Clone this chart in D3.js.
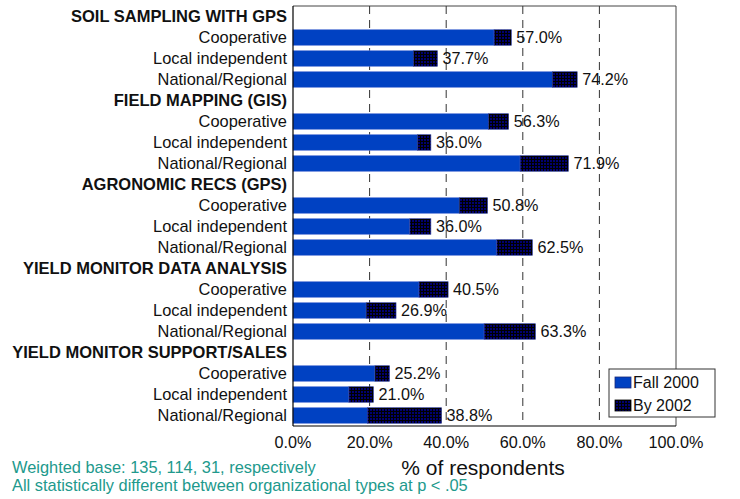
<!DOCTYPE html>
<html>
<head>
<meta charset="utf-8">
<script src="https://cdn.jsdelivr.net/npm/d3@7"></script>
<style>
  body { margin: 0; background: #fff; }
  svg { display: block; font-family: "Liberation Sans", Arial, sans-serif; }
</style>
</head>
<body>
<svg width="740" height="499"></svg>
<script>
// chart data
const groups = ["SOIL SAMPLING WITH GPS", "FIELD MAPPING (GIS)", "AGRONOMIC RECS (GPS)",
                "YIELD MONITOR DATA ANALYSIS", "YIELD MONITOR SUPPORT/SALES"];
const orgTypes = ["Cooperative", "Local independent", "National/Regional"];
const fall2000 = [[52.5, 31.4, 67.7], [51.0, 32.5, 59.3], [43.4, 30.5, 53.2],
                  [32.9, 19.1, 49.9], [21.4, 14.6, 19.4]];
const by2002 = [[57.0, 37.7, 74.2], [56.3, 36.0, 71.9], [50.8, 36.0, 62.5],
                [40.5, 26.9, 63.3], [25.2, 21.0, 38.8]];
const xTicks = [0, 20, 40, 60, 80, 100];
const seriesNames = ["Fall 2000", "By 2002"];
const footnotes = ["Weighted base: 135, 114, 31, respectively",
                   "All statistically different between organizational types at p < .05"];

const svg = d3.select("svg");
const plotL = 293, plotR = 676, plotT = 6, plotB = 426;
const blue = "#0041c2", navy = "#000070", teal = "#21998c";

// hatched fill for the "By 2002" part
const defs = svg.append("defs");
const pat = defs.append("pattern")
    .attr("id", "grid")
    .attr("width", 3).attr("height", 3)
    .attr("patternUnits", "userSpaceOnUse");
pat.append("rect").attr("width", 3).attr("height", 3).attr("fill", navy);
pat.append("path").attr("d", "M0,0.5H3M0.5,0V3")
    .attr("stroke", "#000").attr("stroke-width", 1);

// one row per header and per bar
var rows = [];
groups.forEach(function (g, gi) {
    rows.push({ key: "h" + gi, label: g, header: true });
    orgTypes.forEach(function (o, oi) {
        rows.push({ key: gi + "-" + oi, label: o, header: false,
                    fall: fall2000[gi][oi], total: by2002[gi][oi] });
    });
});

var x = d3.scaleLinear().domain([0, 100]).range([plotL, plotR]);
var y = d3.scaleBand().domain(rows.map(d => d.key)).range([plotT, plotB])
    .paddingInner(0.26).paddingOuter(0.13);

// frame and dashed grid
svg.append("path")
    .attr("d", `M${plotL},${plotT}H${plotR}V${plotB}`)
    .attr("fill", "none").attr("stroke", "#444").attr("stroke-width", 1);

svg.append("g").selectAll("line")
    .data(xTicks.filter(t => t > 0 && t < 100))
    .enter().append("line")
    .attr("x1", d => x(d)).attr("x2", d => x(d))
    .attr("y1", plotT).attr("y2", plotB)
    .attr("stroke", "#333").attr("stroke-dasharray", "8,6");

// bars
var bars = rows.filter(d => !d.header);
var barG = svg.append("g");
barG.selectAll(".fall")
    .data(bars).enter().append("rect")
    .attr("class", "fall")
    .attr("x", x(0)).attr("y", d => y(d.key))
    .attr("width", d => x(d.fall) - x(0))
    .attr("height", y.bandwidth())
    .attr("fill", blue).attr("stroke", "#5a78d6").attr("stroke-width", 0.6);

barG.selectAll(".grow")
    .data(bars).enter().append("rect")
    .attr("class", "grow")
    .attr("x", d => x(d.fall)).attr("y", d => y(d.key))
    .attr("width", d => x(d.total) - x(d.fall))
    .attr("height", y.bandwidth())
    .attr("fill", "url(#grid)").attr("stroke", "#2a3a9a").attr("stroke-width", 0.6);

barG.selectAll(".val")
    .data(bars).enter().append("text")
    .attr("x", d => x(d.total) + 5)
    .attr("y", d => y(d.key) + y.bandwidth() / 2)
    .attr("dy", "0.36em")
    .attr("font-size", 16.2).attr("fill", "#111")
    .text(d => d.total.toFixed(1) + "%");

// axes lines
svg.append("line").attr("x1", plotL).attr("x2", plotL).attr("y1", plotT).attr("y2", plotB)
    .attr("stroke", "#000").attr("stroke-width", 1.2);
svg.append("line").attr("x1", plotL).attr("x2", plotR).attr("y1", plotB).attr("y2", plotB)
    .attr("stroke", "#000").attr("stroke-width", 1.2);

// row labels
svg.append("g").selectAll("text")
    .data(rows).enter().append("text")
    .attr("x", 287)
    .attr("y", d => y(d.key) + y.bandwidth() / 2)
    .attr("dy", "0.36em")
    .attr("text-anchor", "end")
    .attr("font-size", d => d.header ? 16.5 : 16.4)
    .attr("font-weight", d => d.header ? "bold" : "normal")
    .attr("fill", "#111")
    .text(d => d.label);

// x tick labels
svg.append("g").selectAll("text")
    .data(xTicks).enter().append("text")
    .attr("x", d => x(d)).attr("y", 448)
    .attr("text-anchor", "middle")
    .attr("font-size", 16.2).attr("fill", "#111")
    .text(d => d.toFixed(1) + "%");

svg.append("text")
    .attr("x", 483).attr("y", 475)
    .attr("text-anchor", "middle")
    .attr("font-size", 21).attr("fill", "#111")
    .text("% of respondents");

svg.append("g").selectAll("text")
    .data(footnotes).enter().append("text")
    .attr("x", 12).attr("y", (d, i) => 473 + i * 18)
    .attr("font-size", 16.4).attr("fill", teal)
    .text(d => d);

// legend
var leg = svg.append("g").attr("transform", "translate(609,369)");
leg.append("rect").attr("width", 106).attr("height", 48)
    .attr("fill", "#fff").attr("stroke", "#333").attr("stroke-width", 1);
var item = leg.selectAll(".item")
    .data(seriesNames).enter().append("g")
    .attr("transform", (d, i) => `translate(6,${8 + i * 23})`);
item.append("rect")
    .attr("width", 16).attr("height", 11)
    .attr("fill", (d, i) => i === 0 ? blue : "url(#grid)")
    .attr("stroke", (d, i) => i === 0 ? "#1a2a7a" : "#000").attr("stroke-width", 0.8);
item.append("text")
    .attr("x", 18).attr("y", 5.5).attr("dy", "0.36em")
    .attr("font-size", 16).attr("fill", "#111")
    .text(d => d);
</script>
</body>
</html>
